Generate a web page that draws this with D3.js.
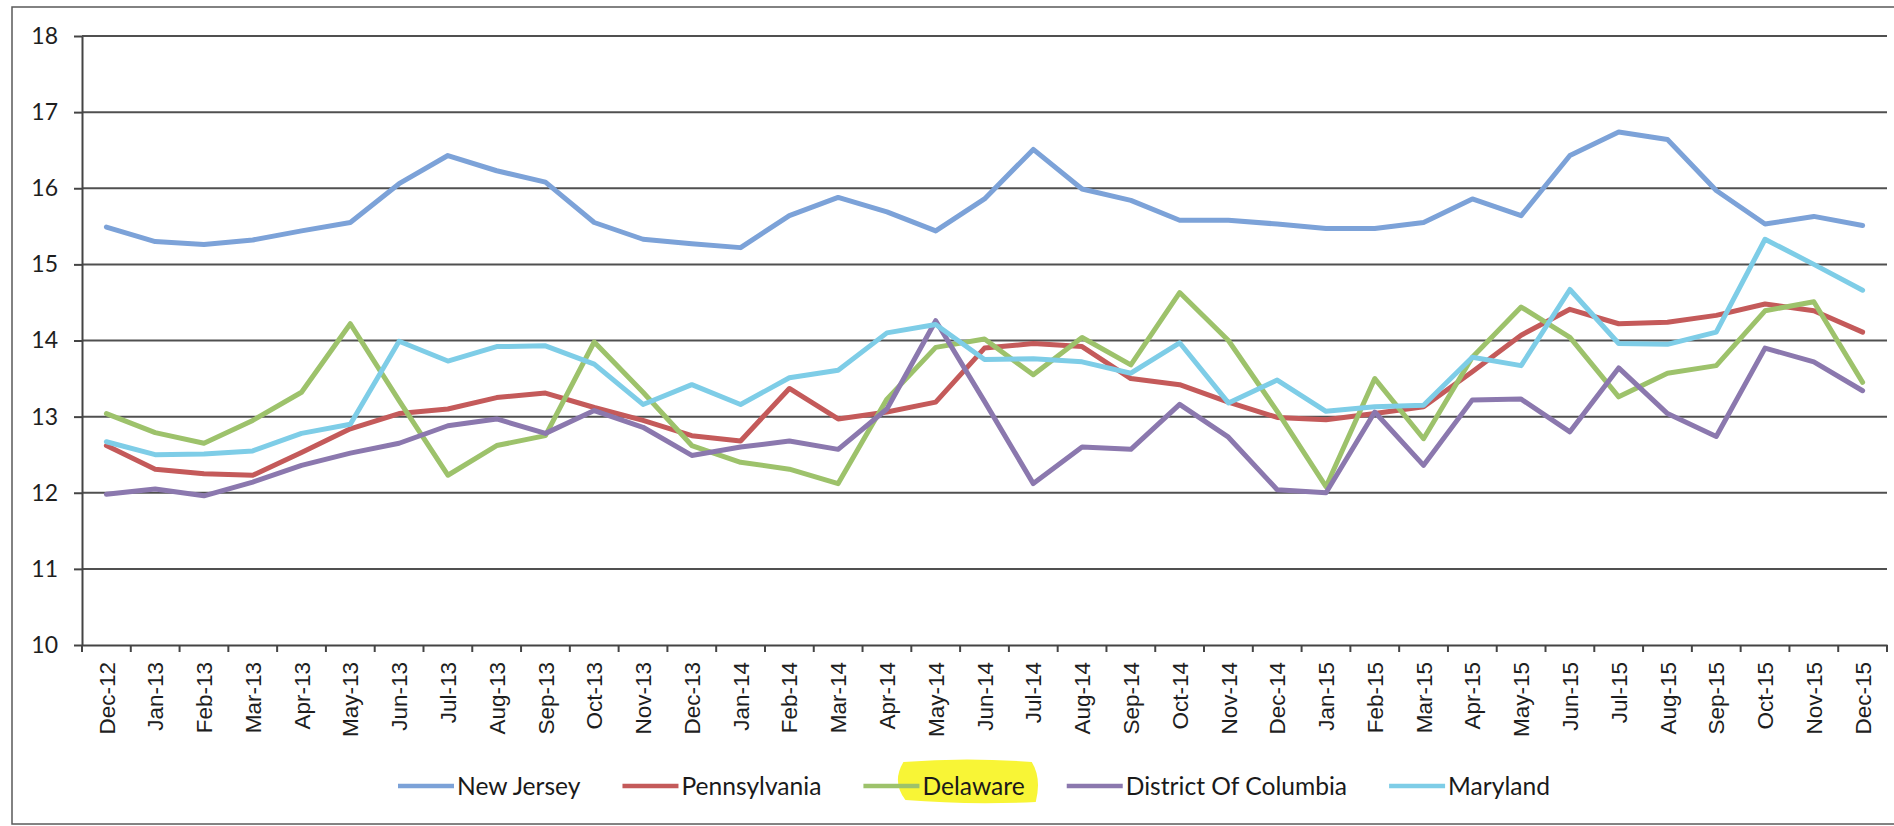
<!DOCTYPE html>
<html>
<head>
<meta charset="utf-8">
<script src="https://cdn.jsdelivr.net/npm/d3@7"></script>
<style>
  html, body { margin: 0; padding: 0; background: #ffffff; }
  svg { display: block; }
</style>
</head>
<body>
<svg id="chart" width="1894" height="826"></svg>
<script>
// ---------- data ----------
const months = ["Dec-12","Jan-13","Feb-13","Mar-13","Apr-13","May-13","Jun-13","Jul-13","Aug-13","Sep-13","Oct-13","Nov-13","Dec-13",
  "Jan-14","Feb-14","Mar-14","Apr-14","May-14","Jun-14","Jul-14","Aug-14","Sep-14","Oct-14","Nov-14","Dec-14",
  "Jan-15","Feb-15","Mar-15","Apr-15","May-15","Jun-15","Jul-15","Aug-15","Sep-15","Oct-15","Nov-15","Dec-15"];

const seriesNames = ["New Jersey", "Pennsylvania", "Delaware", "District Of Columbia", "Maryland"];

const newJersey = [15.49,15.30,15.26,15.32,15.44,15.55,16.06,16.43,16.23,16.08,15.55,15.33,15.27,
  15.22,15.64,15.88,15.69,15.44,15.86,16.51,15.99,15.84,15.58,15.58,15.53,
  15.47,15.47,15.55,15.86,15.64,16.43,16.74,16.64,15.97,15.53,15.63,15.51];

const pennsylvania = [12.62,12.31,12.25,12.23,12.53,12.84,13.04,13.10,13.25,13.31,13.12,12.95,12.75,
  12.68,13.37,12.97,13.06,13.19,13.90,13.96,13.92,13.50,13.42,13.19,12.99,
  12.96,13.04,13.13,13.59,14.07,14.41,14.22,14.24,14.33,14.48,14.39,14.11];

const delaware = [13.04,12.79,12.65,12.95,13.32,14.22,13.21,12.23,12.62,12.75,13.98,13.32,12.62,
  12.40,12.31,12.12,13.23,13.91,14.02,13.55,14.04,13.68,14.63,14.00,13.07,
  12.08,13.50,12.71,13.78,14.44,14.04,13.26,13.57,13.67,14.39,14.51,13.45];

const districtOfColumbia = [11.98,12.05,11.96,12.14,12.36,12.52,12.65,12.88,12.97,12.78,13.08,12.86,12.49,
  12.60,12.68,12.57,13.10,14.26,13.20,12.12,12.60,12.57,13.16,12.73,12.04,
  12.00,13.06,12.36,13.22,13.23,12.80,13.64,13.04,12.74,13.90,13.72,13.34];

const maryland = [12.67,12.50,12.51,12.55,12.78,12.90,13.99,13.73,13.92,13.93,13.69,13.16,13.42,
  13.16,13.51,13.61,14.10,14.21,13.75,13.76,13.72,13.57,13.97,13.18,13.48,
  13.07,13.13,13.15,13.78,13.67,14.67,13.96,13.95,14.11,15.33,15.00,14.66];

const yTicks = [10, 11, 12, 13, 14, 15, 16, 17, 18];

// ---------- style ----------
const colors = ["#7ca2d8", "#c45a5a", "#9dc26b", "#8b78ae", "#7ecde7"];
const seriesValues = [newJersey, pennsylvania, delaware, districtOfColumbia, maryland];

const svg = d3.select("#chart");
const margin = { left: 82, right: 1887, top: 36, bottom: 645 };

// frame
svg.append("rect")
  .attr("x", 12).attr("y", 7)
  .attr("width", 1900).attr("height", 817)
  .attr("fill", "none").attr("stroke", "#5a5a5a").attr("stroke-width", 1.5);

const x = d3.scaleBand().domain(months).range([margin.left, margin.right]).padding(0);
const y = d3.scaleLinear().domain([10, 18]).range([margin.bottom, margin.top]);
const cx = d => x(d) + x.bandwidth() / 2;

// gridlines
svg.append("g").selectAll("line")
  .data(yTicks.filter(v => v > 10))
  .join("line")
  .attr("x1", margin.left).attr("x2", margin.right)
  .attr("y1", d => y(d)).attr("y2", d => y(d))
  .attr("stroke", "#505050").attr("stroke-width", 2);

// y axis
const yAxis = svg.append("g")
  .attr("transform", `translate(${margin.left},0)`)
  .call(d3.axisLeft(y).tickValues(yTicks).tickSize(8).tickPadding(16).tickSizeOuter(0));
yAxis.select(".domain").attr("stroke", "#444").attr("stroke-width", 2);
yAxis.selectAll(".tick line").attr("stroke", "#444").attr("stroke-width", 2);
yAxis.selectAll(".tick text")
  .attr("fill", "#1e1e1e")
  .style("font-family", "Lato, 'Open Sans', sans-serif")
  .style("font-size", "23px");

// x axis
const xAxis = svg.append("g")
  .attr("transform", `translate(0,${margin.bottom})`)
  .call(d3.axisBottom(x).tickSize(0).tickSizeOuter(0));
xAxis.select(".domain").attr("stroke", "#444").attr("stroke-width", 2);
xAxis.selectAll(".tick text")
  .attr("transform", "rotate(-90)")
  .attr("x", -17).attr("y", 0).attr("dy", "0.36em")
  .attr("text-anchor", "end")
  .attr("fill", "#1e1e1e")
  .style("font-family", "'Liberation Sans', Arial, sans-serif")
  .style("font-size", "22.5px");

// boundary ticks
const boundaries = months.map(m => x(m)).concat([x(months[months.length - 1]) + x.bandwidth()]);
svg.append("g").selectAll("line")
  .data(boundaries)
  .join("line")
  .attr("x1", d => d).attr("x2", d => d)
  .attr("y1", margin.bottom).attr("y2", margin.bottom + 7)
  .attr("stroke", "#444").attr("stroke-width", 2);

// lines
const line = d3.line()
  .x((d, i) => cx(months[i]))
  .y(d => y(d));

svg.append("g").selectAll("path")
  .data(seriesValues)
  .join("path")
  .attr("d", d => line(d))
  .attr("fill", "none")
  .attr("stroke", (d, i) => colors[i])
  .attr("stroke-width", 5)
  .attr("stroke-linejoin", "round")
  .attr("stroke-linecap", "round");

// legend
const legend = svg.append("g");
const highlightLayer = legend.append("g");
let lx = 398;
const ly = 786;
seriesNames.forEach((name, i) => {
  legend.append("line")
    .attr("x1", lx).attr("x2", lx + 56)
    .attr("y1", ly).attr("y2", ly)
    .attr("stroke", colors[i]).attr("stroke-width", 4.5);
  const t = legend.append("text")
    .attr("x", lx + 59).attr("y", ly + 9)
    .attr("fill", "#1a1a1a")
    .style("font-family", "Lato, 'Open Sans', sans-serif")
    .style("font-size", "24.6px")
    .text(name);
  const w = t.node().getComputedTextLength();
  if (name === "Delaware") {
    const x0 = lx + 30, x1 = lx + 59 + w + 15;
    highlightLayer.append("path")
      .attr("d", `M${x0 + 10},${ly - 24} Q${(x0 + x1) / 2},${ly - 29} ${x1 - 8},${ly - 24}
                  Q${x1 + 2},${ly - 8} ${x1 - 4},${ly + 16}
                  Q${(x0 + x1) / 2},${ly + 19} ${x0 + 12},${ly + 14}
                  Q${x0 - 2},${ly - 4} ${x0 + 10},${ly - 24} Z`)
      .attr("fill", "#f8f536");
  }
  lx = lx + 59 + w + 42;
});
</script>
</body>
</html>
